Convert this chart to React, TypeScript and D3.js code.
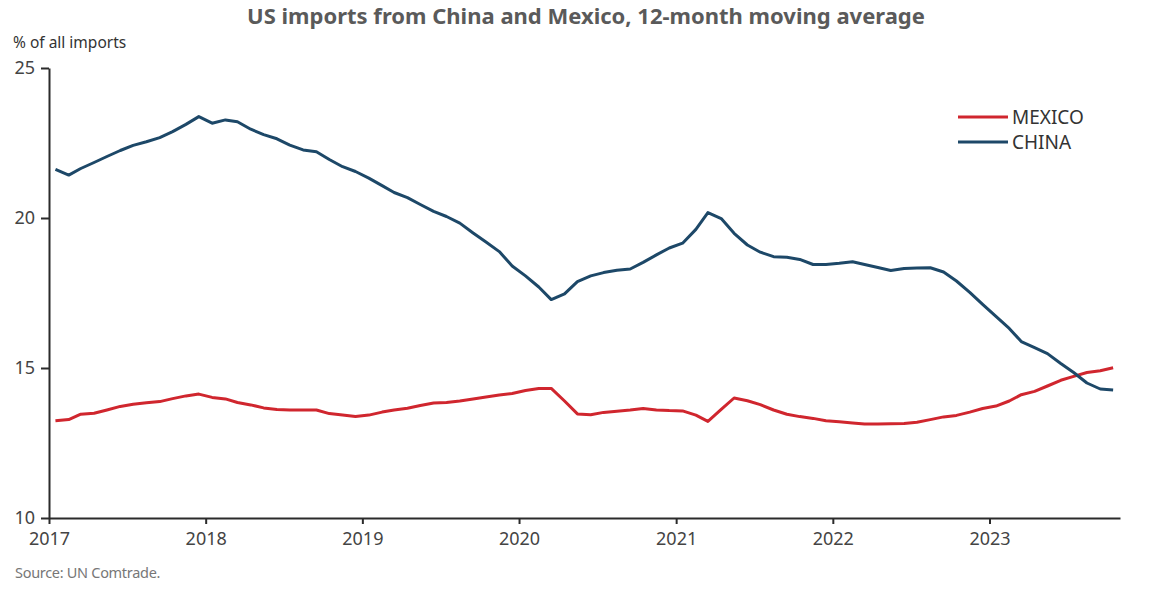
/* eslint-disable */
import React, { useEffect, useRef } from 'react';
import * as d3 from 'd3';

// monthly, Jan 2017 .. Oct 2023 (12-month moving average, % of all US imports)
const startYear = 2017;
const china = [
  21.62, 21.43, 21.65, 21.85, 22.05, 22.25, 22.42, 22.54, 22.68, 22.88, 23.12, 23.38,
  23.16, 23.27, 23.21, 22.96, 22.78, 22.64, 22.43, 22.27, 22.21, 21.95, 21.71, 21.55,
  21.33, 21.08, 20.85, 20.68, 20.45, 20.22, 20.05, 19.83, 19.5, 19.2, 18.88, 18.4,
  18.07, 17.7, 17.28, 17.47, 17.88, 18.07, 18.18, 18.26, 18.3, 18.52, 18.77, 19.0,
  19.16, 19.62, 20.18, 19.98, 19.49, 19.1, 18.86, 18.71, 18.69, 18.62, 18.45, 18.45,
  18.49, 18.54, 18.45, 18.35, 18.25, 18.32, 18.33, 18.34, 18.2, 17.9, 17.52, 17.12,
  16.72, 16.32, 15.88, 15.68, 15.48, 15.15, 14.85, 14.5, 14.3, 14.27,
];
const mexico = [
  13.24, 13.28, 13.46, 13.49, 13.6, 13.72, 13.79, 13.84, 13.88, 13.98, 14.07, 14.13,
  14.02, 13.97, 13.85, 13.77, 13.67, 13.62, 13.6, 13.6, 13.6, 13.48, 13.43, 13.38,
  13.43, 13.53, 13.6, 13.66, 13.75, 13.83, 13.85, 13.9, 13.97, 14.03, 14.1, 14.15,
  14.25, 14.32, 14.32, 13.9, 13.47, 13.44, 13.52, 13.56, 13.6, 13.65, 13.6, 13.58,
  13.57, 13.43, 13.22, 13.62, 14.0, 13.91, 13.78, 13.6, 13.46, 13.38, 13.32, 13.24,
  13.21, 13.17, 13.13, 13.13, 13.14, 13.15, 13.19, 13.28, 13.37, 13.42, 13.53, 13.65,
  13.73, 13.9, 14.11, 14.22, 14.4, 14.59, 14.72, 14.85, 14.91, 15.01,
];
const yTicks = [10, 15, 20, 25];
const xTickYears = [2017, 2018, 2019, 2020, 2021, 2022, 2023];
const seriesNames = ['MEXICO', 'CHINA'];
const seriesColors = ['#d0262e', '#1d4868'];

const App = () => {
  const ref = useRef<SVGSVGElement>(null);

  useEffect(() => {
    document.body.style.margin = '0';
    if (!ref.current) return;
    const svg = d3.select(ref.current);
    svg.selectAll('*').remove();

    const width = 1176;
    const height = 595;
    const margin = { top: 68, right: 56, bottom: 77, left: 49 };
    const font = "'Noto Sans', sans-serif";

    svg.attr('width', width).attr('height', height).attr('viewBox', `0 0 ${width} ${height}`);

    // ------- Scales -------
    const x = d3
      .scaleTime()
      .domain([new Date(2017, 0, 1), new Date(2023, 10, 1)])
      .range([margin.left, width - margin.right]);

    const y = d3
      .scaleLinear()
      .domain([10, 25])
      .range([height - margin.bottom, margin.top]);

    const dateOf = (i: number) => new Date(startYear, i, 16);

    // ------- Title -------
    svg.append('text')
      .attr('x', 586)
      .attr('y', 24)
      .attr('text-anchor', 'middle')
      .attr('font-family', font)
      .attr('font-weight', 'bold')
      .attr('font-size', 22)
      .attr('fill', '#5a5a5a')
      .text('US imports from China and Mexico, 12-month moving average');

    svg.append('text')
      .attr('x', 13)
      .attr('y', 48)
      .attr('font-family', font)
      .attr('font-size', 15.5)
      .attr('fill', '#333')
      .text('% of all imports');

    // ------- Axes -------
    const xAxis = svg.append('g')
      .attr('transform', `translate(0, ${height - margin.bottom})`)
      .call(
        d3.axisBottom(x)
          .tickValues(xTickYears.map((yr) => new Date(yr, 0, 1)))
          .tickFormat(d3.timeFormat('%Y') as any)
          .tickSize(6)
          .tickSizeOuter(0)
          .tickPadding(8)
      );

    const yAxis = svg.append('g')
      .attr('transform', `translate(${margin.left}, 0)`)
      .call(d3.axisLeft(y).tickValues(yTicks).tickSize(8).tickSizeOuter(0).tickPadding(6));

    [xAxis, yAxis].forEach((g) => {
      g.select('.domain').attr('stroke', '#2b2b2b').attr('stroke-width', 2);
      g.selectAll('.tick line').attr('stroke', '#2b2b2b').attr('stroke-width', 2);
      g.selectAll('.tick text')
        .attr('font-family', font)
        .attr('font-size', 18)
        .attr('fill', '#444');
    });
    yAxis.selectAll('.tick text').attr('dy', '0.3em');

    // ------- Lines -------
    const line = d3
      .line<number>()
      .x((_, i) => x(dateOf(i)))
      .y((d) => y(d));

    [mexico, china].forEach((vals, k) => {
      svg.append('path')
        .datum(vals)
        .attr('fill', 'none')
        .attr('stroke', seriesColors[k])
        .attr('stroke-width', 3)
        .attr('stroke-linejoin', 'round')
        .attr('d', line);
    });

    // ------- Legend -------
    const legend = svg.append('g').attr('transform', 'translate(958,117)');
    seriesNames.forEach((name, k) => {
      legend.append('line')
        .attr('x1', 0)
        .attr('x2', 50)
        .attr('y1', k * 25)
        .attr('y2', k * 25)
        .attr('stroke', seriesColors[k])
        .attr('stroke-width', 3);
      legend.append('text')
        .attr('x', 54)
        .attr('y', k * 25)
        .attr('dy', '0.35em')
        .attr('font-family', font)
        .attr('font-size', 19)
        .attr('fill', '#333')
        .text(name);
    });

    // ------- Source -------
    svg.append('text')
      .attr('x', 15)
      .attr('y', 578)
      .attr('font-family', font)
      .attr('font-size', 14.5)
      .attr('fill', '#777')
      .attr('letter-spacing', -0.3)
      .text('Source: UN Comtrade.');
  }, []);

  return <svg ref={ref} style={{ display: 'block' }} />;
};

export default App;
